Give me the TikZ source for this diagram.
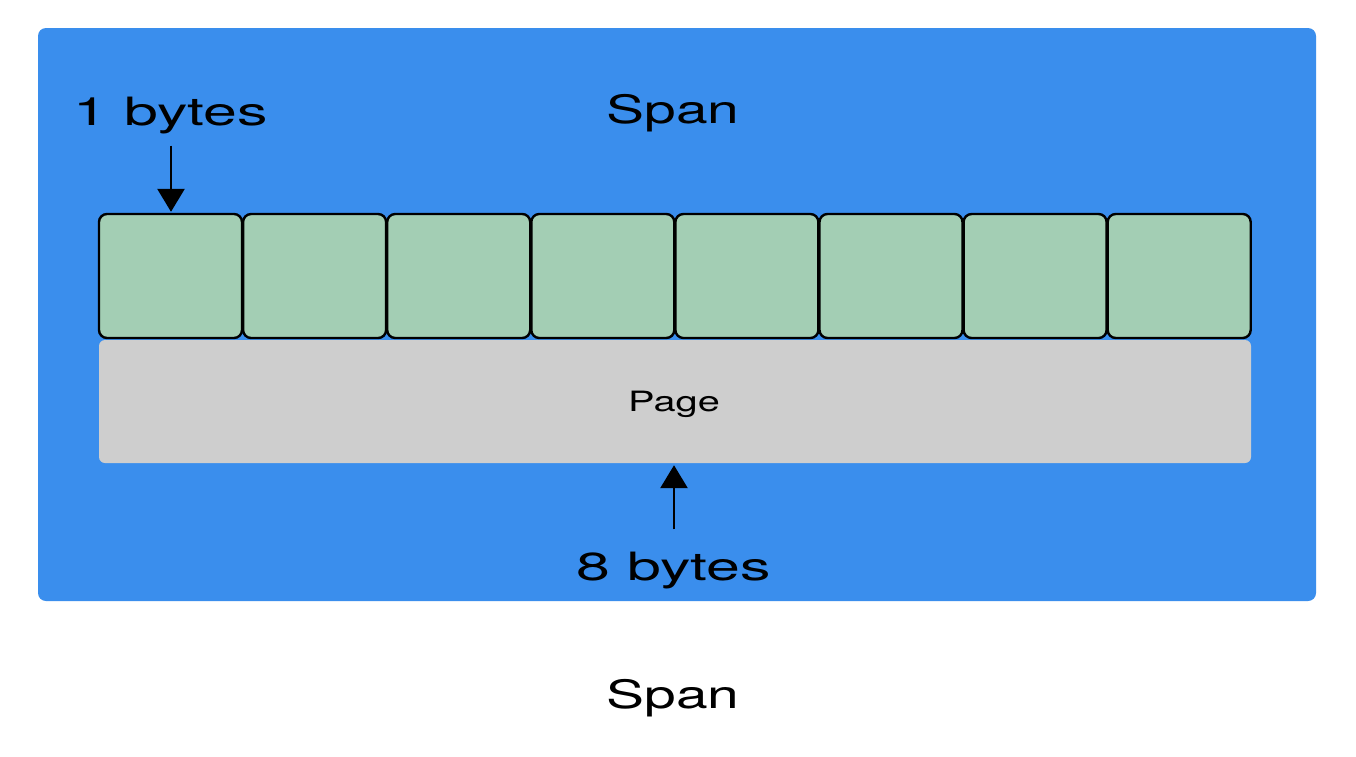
\documentclass[tikz,border=0pt]{standalone}
\usepackage{graphicx}
\usepackage{fontspec}
\setmainfont{TeX Gyre Heros}
\usetikzlibrary{arrows.meta}
\definecolor{spanblue}{HTML}{3A8EED}
\definecolor{cellgreen}{HTML}{A3CEB4}
\definecolor{pagegray}{HTML}{CECECE}
\newcommand{\bigtxt}[2][1.46]{\fontsize{39}{39}\selectfont\scalebox{#1}[1]{#2}}
\newcommand{\smalltxt}[1]{\fontsize{28}{28}\selectfont\scalebox{1.42}[1]{#1}}
\begin{document}
\begin{tikzpicture}[x=1pt,y=-1pt,
  spanbox/.style={fill=spanblue,rounded corners=8pt,minimum width=1278pt,minimum height=573pt,inner sep=0pt},
  cellbox/.style={fill=cellgreen,draw=black,line width=2.4pt,rounded corners=8pt,minimum width=143pt,minimum height=124pt,inner sep=0pt},
  pagebox/.style={fill=pagegray,rounded corners=6pt,minimum width=1152pt,minimum height=123pt,inner sep=0pt},
  lbl/.style={anchor=base,inner sep=0pt,text=black},
  arr/.style={line width=2.8pt,-{Triangle[width=27pt,length=23pt]}}]
\useasboundingbox (0,0) rectangle (1356,756);
\fill[white] (0,0) rectangle (1356,756);
\node[spanbox] (span) at (677,314.5) {};
\node[pagebox] (page) at (675,401.5) {};
\node[lbl] (pagetxt) at (674,411) {\smalltxt{Page}};
\foreach \i in {1,...,8} {
  \node[cellbox] (c\i) at ({99+71.5+(\i-1)*144.1},276) {};
}
\node[lbl] (spantop) at (673,123) {\bigtxt{Span}};
\node[lbl] (one) at (171,125) {\bigtxt[1.56]{1 bytes}};
\node[lbl] (eight) at (674,580) {\bigtxt[1.56]{8 bytes}};
\node[lbl] (spanbot) at (673,708) {\bigtxt{Span}};
\draw[arr,shorten <=12pt,shorten >=1pt] (one.south) -- (one.south |- c1.north);
\draw[arr,shorten <=22pt,shorten >=2pt] (eight.north) -- (eight.north |- page.south);
\end{tikzpicture}
\end{document}
